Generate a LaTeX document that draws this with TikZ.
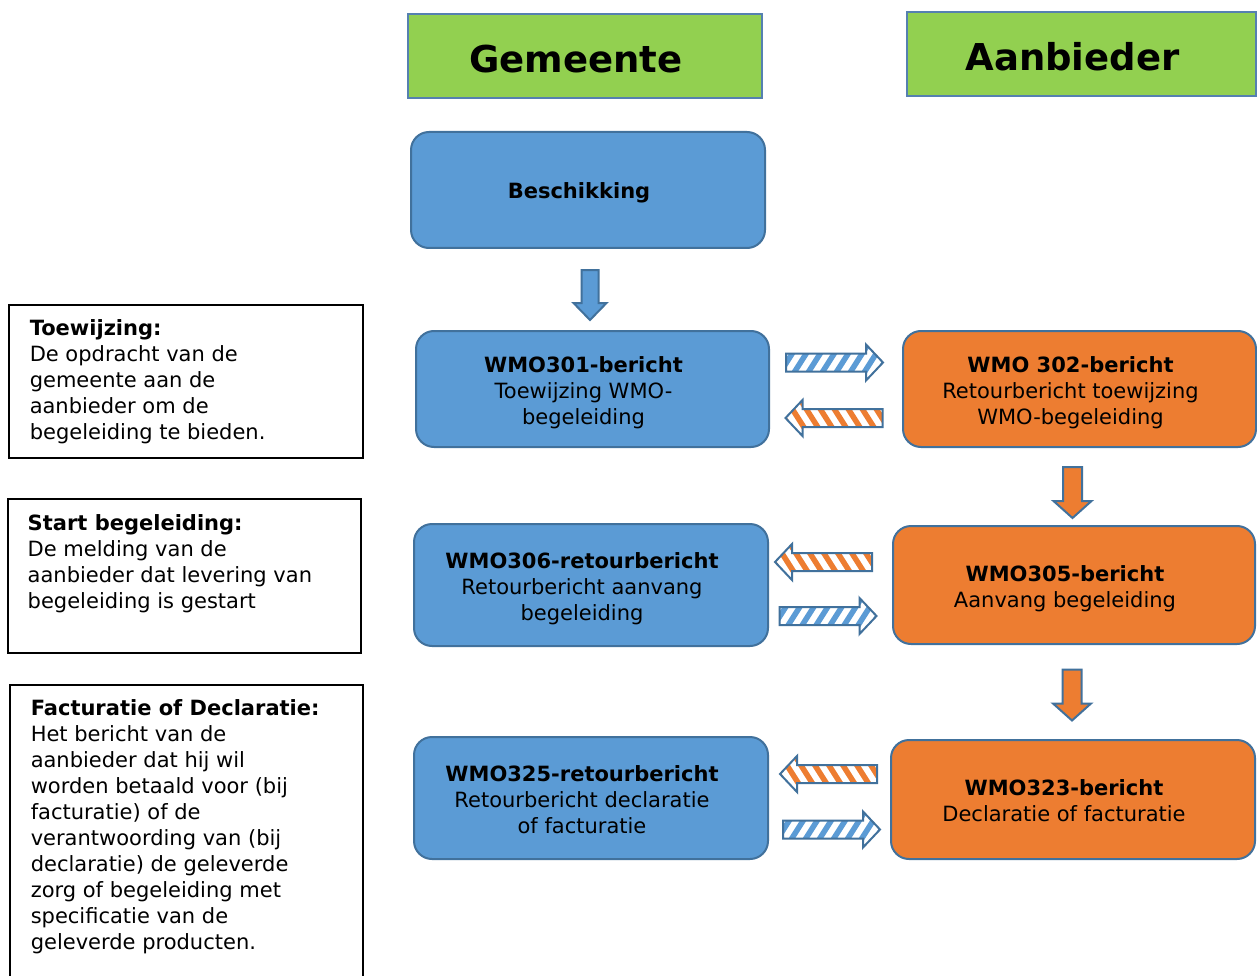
\documentclass[tikz,border=0pt]{standalone}
\usepackage{fontspec}
\setmainfont{DejaVu Sans}
\definecolor{boxblue}{HTML}{5B9BD5}
\definecolor{boxorange}{HTML}{ED7D31}
\definecolor{hdrgreen}{HTML}{92D050}
\definecolor{edgeblue}{HTML}{41719C}
\definecolor{hdredge}{HTML}{5580B0}
\newcommand{\ctext}[2][8pt]{\raisebox{0pt}[\dimexpr\height+#1\relax]{\begin{tabular}{@{}c@{\hspace{18pt}}}#2\end{tabular}}}
\newcommand{\desctext}[5]{\parbox[t][#2][t]{#1}{\raggedright\leftskip=#3\relax\rule{0pt}{#4}#5}}
\newcommand{\hatcharrow}[4]{%
\begin{scope}[shift={(#1,#2)}, xscale=#3]
\begin{scope}
\clip (-48.5,-9) -- (31.5,-9) -- (31.5,-18) -- (48.5,0) -- (31.5,18) -- (31.5,9) -- (-48.5,9) -- cycle;
\fill[white] (-50,-20) rectangle (50,20);
\foreach \i in {-90,-76,...,60} \draw[#4, line width=5.5] (\i,22) -- (\i+28,-22);
\end{scope}
\draw[edgeblue, line width=2, line join=miter] (-48.5,-9) -- (31.5,-9) -- (31.5,-18) -- (48.5,0) -- (31.5,18) -- (31.5,9) -- (-48.5,9) -- cycle;
\end{scope}}
\newcommand{\blockdown}[7]{%
\begin{scope}[shift={(#1,#2)}]
\filldraw[fill=#7, draw=edgeblue, line width=2, line join=miter] (-#3,-#5/2) -- (#3,-#5/2) -- (#3,#5/2-#6) -- (#4,#5/2-#6) -- (0,#5/2) -- (-#4,#5/2-#6) -- (-#3,#5/2-#6) -- cycle;
\end{scope}}
\begin{document}
\begin{tikzpicture}[x=1pt,y=-1pt,
  hdr/.style={draw=hdredge, fill=hdrgreen, line width=2.5, inner sep=0, font=\fontsize{37}{44}\selectfont\bfseries},
  msg/.style={draw=edgeblue, line width=2, rounded corners=18, inner sep=0, font=\fontsize{21}{26}\selectfont},
  gem/.style={msg, fill=boxblue},
  aan/.style={msg, fill=boxorange},
  desc/.style={draw=black, line width=1.5, inner sep=0, anchor=north west, font=\fontsize{21}{26}\selectfont}]
\useasboundingbox (0,0) rectangle (1257,976);
\fill[white] (0,0) rectangle (1257,976);

\node[hdr, minimum width=354, minimum height=84] (hgem) at (585,56) {\ctext[15pt]{Gemeente}};
\node[hdr, minimum width=349, minimum height=84] (haan) at (1081.5,54) {\ctext[15pt]{Aanbieder}};

\node[gem, minimum width=354, minimum height=116] (besch) at (588,190) {\ctext[6pt]{\textbf{Beschikking}}};
\node[gem, minimum width=353, minimum height=116] (w301) at (592.5,389) {\ctext{\textbf{WMO301-bericht}\\Toewijzing WMO-\\begeleiding}};
\node[aan, minimum width=353, minimum height=116] (w302) at (1079.5,389) {\ctext{\textbf{WMO 302-bericht}\\Retourbericht toewijzing\\WMO-begeleiding}};
\node[gem, minimum width=354, minimum height=122] (w306) at (591,585) {\ctext{\textbf{WMO306-retourbericht}\\Retourbericht aanvang\\begeleiding}};
\node[aan, minimum width=362, minimum height=118] (w305) at (1074,585) {\ctext{\textbf{WMO305-bericht}\\Aanvang begeleiding}};
\node[gem, minimum width=354, minimum height=122] (w325) at (591,798) {\ctext{\textbf{WMO325-retourbericht}\\Retourbericht declaratie\\of facturatie}};
\node[aan, minimum width=364, minimum height=119] (w323) at (1073,799.5) {\ctext{\textbf{WMO323-bericht}\\Declaratie of facturatie}};

\node[desc] (d1) at (8,304) {\desctext{354pt}{153pt}{21pt}{31pt}{\textbf{Toewijzing:}\\De opdracht van de\\gemeente aan de\\aanbieder om de\\begeleiding te bieden.}};
\node[desc] (d2) at (7,498) {\desctext{353pt}{154pt}{20pt}{32pt}{\textbf{Start begeleiding:}\\De melding van de\\aanbieder dat levering van\\begeleiding is gestart}};
\node[desc] (d3) at (9,684) {\desctext{353pt}{310pt}{21pt}{31pt}{\textbf{Facturatie of Declaratie:}\\Het bericht van de\\aanbieder dat hij wil\\worden betaald voor (bij\\facturatie) of de\\verantwoording van (bij\\declaratie) de geleverde\\zorg of begeleiding met\\specificatie van de\\geleverde producten.}};

\blockdown{590}{295}{8.5}{16.5}{50}{17}{boxblue}
\blockdown{1072.5}{492.5}{9.5}{19}{51}{17}{boxorange}
\blockdown{1072}{695}{9.5}{19}{51}{17}{boxorange}

\hatcharrow{834.5}{362.5}{1}{boxblue}
\hatcharrow{834}{418}{-1}{boxorange}
\hatcharrow{823.5}{562}{-1}{boxorange}
\hatcharrow{828}{616}{1}{boxblue}
\hatcharrow{828.5}{774}{-1}{boxorange}
\hatcharrow{831.5}{829.5}{1}{boxblue}
\end{tikzpicture}
\end{document}
